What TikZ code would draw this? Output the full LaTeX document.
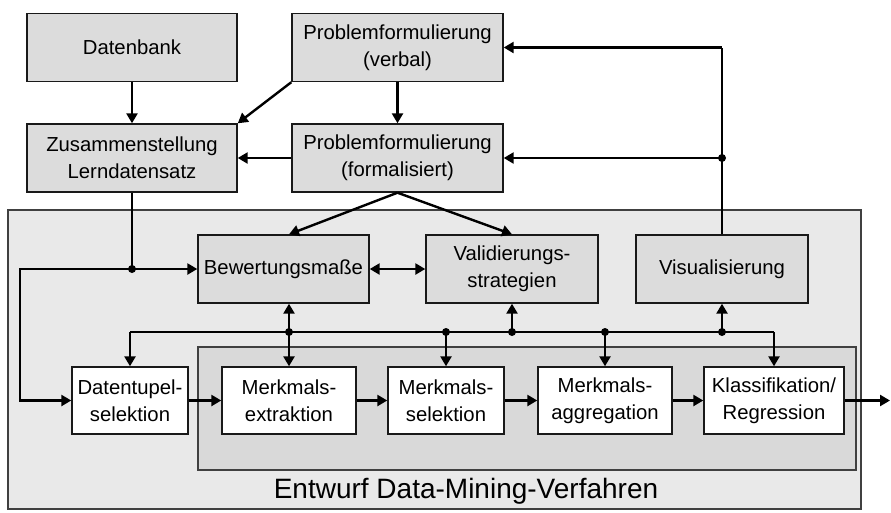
\documentclass[tikz,border=0pt]{standalone}
\usepackage{fontspec}
\setmainfont{Liberation Sans}
\usetikzlibrary{arrows.meta,positioning}
\definecolor{boxgray}{HTML}{DCDCDC}
\definecolor{outergray}{HTML}{E9E9E9}
\definecolor{innergray}{HTML}{D9D9D9}

\begin{document}
\begin{tikzpicture}[
  x=1pt, y=-1pt,
  box/.style={draw=black!90, line width=1.4pt, fill=#1, text=black,
              font=\fontsize{20.3}{27}\selectfont, align=center, inner sep=0pt,
              minimum height=68pt},
  box/.default=boxgray,
  frame/.style={draw=black!75, line width=1.1pt, fill=#1},
  ar/.style={-{Triangle[length=10pt,width=11pt]}, line width=2.4pt},
  ar2/.style={{Triangle[length=10pt,width=11pt]}-{Triangle[length=10pt,width=11pt]}, line width=2.4pt},
  ln/.style={line width=1.5pt},
  dot/.style={circle, fill=black, inner sep=0pt, minimum size=8pt},
]
\useasboundingbox (0,0) rectangle (891,512);

% Rahmen Entwurf / Merkmalskette
\draw[frame=outergray] (8,210) rectangle (861,509);
\draw[frame=innergray] (198,347) rectangle (856,470);
\node[font=\fontsize{28}{34}\selectfont] (titel) at (466,491) {Entwurf Data-Mining-Verfahren};

% Obere Ebene
\node[box, minimum width=210pt] (db) at (132,47.5) {Datenbank};
\node[box, minimum width=211pt] (pv) at (397.5,47.5) {Problemformulierung\\(verbal)};
\node[box, minimum width=210pt] (zl) at (132,158) {Zusammenstellung\\Lerndatensatz};
\node[box, minimum width=211pt] (pf) at (397.5,158) {Problemformulierung\\(formalisiert)};
\draw[ar] (db) -- (zl);
\draw[ar] (pv.south west) -- (zl.north east);
\draw[ar] (pv) -- (pf);
\draw[ar] (pf) -- (zl);

% Bewertung, Validierung, Visualisierung
\node[box, minimum width=171pt] (bm) at (283.5,269) {Bewertungsmaße};
\node[box, minimum width=172pt] (vs) at (512,269) {Validierungs-\\strategien};
\node[box, minimum width=172pt] (vi) at (722,269) {Visualisierung};
\draw[ar2] (bm) -- (vs);

% Merkmalskette
\node[box=white, minimum width=116pt, minimum height=67pt] (dt) at (130,400.5) {Datentupel-\\selektion};
\node[box=white, minimum width=134pt, minimum height=67pt] (me) at (289,400.5) {Merkmals-\\extraktion};
\node[box=white, minimum width=116pt, minimum height=67pt] (ms) at (446,400.5) {Merkmals-\\selektion};
\node[box=white, minimum width=134pt, minimum height=67pt] (ma) at (605,400.5) {Merkmals-\\aggregation};
\node[box=white, minimum width=140pt, minimum height=67pt] (kr) at (774,400.5) {Klassifikation/\\Regression};
\coordinate (aus) at (890,400.5);
\draw[ar] (dt) -- (me);
\draw[ar] (me) -- (ms);
\draw[ar] (ms) -- (ma);
\draw[ar] (ma) -- (kr);
\draw[ar] (kr) -- (aus);

\draw[ar] (pf.south) -- (bm.north -| me.north);
\draw[ar] (pf.south) -- (vs.north);

% Lerndatensatz an Bewertung und Datentupelselektion
\coordinate (lk) at (20,269);
\draw[ar] (zl.south) |- (bm.west);
\node[dot] (j1) at (zl.south |- bm.west) {};
\draw[ar] (j1.center) -- (lk) |- (dt.west);

% Querverbindung
\coordinate (bus) at (0,332);
\draw[ln] (dt.north |- bus) -- (kr.north |- bus);
\draw[ar] (dt.north |- bus) -- (dt.north);
\draw[ar2] (me.north |- bm.south) -- (me.north);
\draw[ar] (ms.north |- bus) -- (ms.north);
\draw[ar] (vs.south |- bus) -- (vs.south);
\draw[ar] (ma.north |- bus) -- (ma.north);
\draw[ar] (vi.south |- bus) -- (vi.south);
\draw[ar] (kr.north |- bus) -- (kr.north);
\node[dot] (d1) at (me.north |- bus) {};
\node[dot] (d2) at (ms.north |- bus) {};
\node[dot] (d3) at (vs.south |- bus) {};
\node[dot] (d4) at (ma.north |- bus) {};
\node[dot] (d5) at (vi.south |- bus) {};

% Rueckkopplung Visualisierung
\draw[ln] (vi.north) -- (vi.north |- pv.east);
\draw[ar] (vi.north |- pv.east) -- (pv.east);
\draw[ar] (vi.north |- pf.east) -- (pf.east);
\node[dot] (j2) at (vi.north |- pf.east) {};
\end{tikzpicture}
\end{document}
